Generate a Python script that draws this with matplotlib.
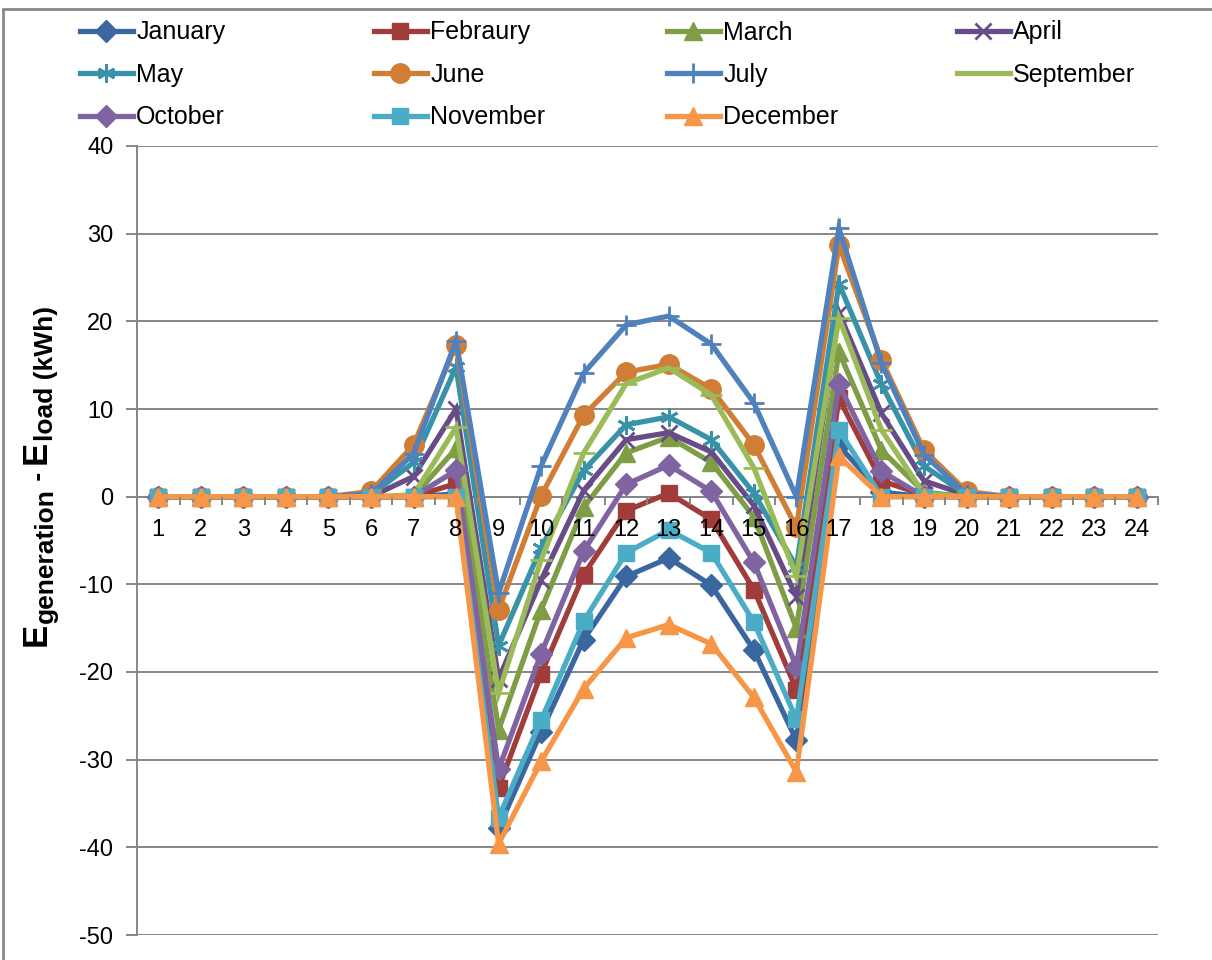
import matplotlib
matplotlib.use("Agg")
import matplotlib.pyplot as plt
from matplotlib.patches import Rectangle

plt.rcParams['font.family'] = ['Liberation Sans', 'DejaVu Sans']
plt.rcParams['axes.unicode_minus'] = False

hours = list(range(1, 25))

january   = [0, 0, 0, 0, 0, 0, 0, 0.3, -37.8, -26.8, -16.3, -9.1, -7.0, -10.1, -17.5, -27.8, 5.8, 0.5, 0, 0, 0, 0, 0, 0]
february  = [0, 0, 0, 0, 0, 0, 0, 1.5, -33.2, -20.2, -8.9, -1.6, 0.4, -2.6, -10.6, -22.0, 11.2, 1.8, 0.2, 0, 0, 0, 0, 0]
march     = [0, 0, 0, 0, 0, 0, 0, 5.5, -26.6, -12.9, -1.2, 5.0, 6.8, 3.9, -2.3, -15.0, 16.5, 5.3, 0.5, 0, 0, 0, 0, 0]
april     = [0, 0, 0, 0, 0, 0, 2.3, 10.0, -20.8, -9.5, 0.7, 6.5, 7.3, 5.1, -1.0, -11.4, 21.0, 9.5, 1.8, 0.2, 0, 0, 0, 0]
may       = [0, 0, 0, 0, 0, 0.2, 3.9, 14.8, -17.0, -5.8, 3.0, 8.2, 9.1, 6.5, 0.4, -8.0, 24.3, 12.8, 3.5, 0.2, 0, 0, 0, 0]
june      = [0, 0, 0, 0, 0, 0.6, 5.9, 17.3, -12.9, 0.1, 9.3, 14.2, 15.1, 12.3, 5.9, -3.5, 28.7, 15.6, 5.3, 0.6, 0, 0, 0, 0]
july      = [0, 0, 0, 0, 0, 0.3, 4.9, 17.8, -11.0, 3.5, 14.1, 19.6, 20.6, 17.4, 10.7, 0.0, 30.6, 15.2, 4.8, 0.3, 0, 0, 0, 0]
september = [0, 0, 0, 0, 0, 0, 0.2, 7.9, -22.4, -7.2, 5.0, 12.9, 14.7, 11.6, 3.3, -9.1, 20.4, 7.6, 0.3, 0, 0, 0, 0, 0]
october   = [0, 0, 0, 0, 0, 0, 0, 3.0, -31.1, -17.9, -6.2, 1.4, 3.6, 0.6, -7.5, -19.4, 12.8, 2.9, 0, 0, 0, 0, 0, 0]
november  = [0, 0, 0, 0, 0, 0, 0, 0, -36.6, -25.5, -14.2, -6.4, -3.8, -6.4, -14.3, -25.4, 7.6, 0, 0, 0, 0, 0, 0, 0]
december  = [0, 0, 0, 0, 0, 0, 0, 0, -39.6, -30.2, -21.9, -16.1, -14.6, -16.8, -22.9, -31.4, 4.6, 0, 0, 0, 0, 0, 0, 0]

series_names = ['January', 'Febraury', 'March', 'April', 'May', 'June',
                'July', 'September', 'October', 'November', 'December']
series_values = [january, february, march, april, may, june,
                 july, september, october, november, december]

colors = ['#3A67A0', '#A03C39', '#7E9D45', '#674C87', '#3892A8', '#D07E35',
          '#4F81BD', '#9BBB59', '#8064A2', '#4BACC6', '#F79646']
markers = ['D', 's', '^', 'x', (6, 2, 0), 'o', '+', '_', 'D', 's', '^']
msizes = [11, 12, 13, 11, 13, 14, 15, 16, 11, 12, 13]

grid_col = '#868686'

fig = plt.figure(figsize=(12.12, 9.6), dpi=100)
ax = fig.add_axes([137 / 1212, 1 - 935 / 960, (1158 - 137) / 1212, (935 - 146) / 960])

handles = []
for name, vals, c, m, ms in zip(series_names, series_values, colors, markers, msizes):
    open_marker = m in ('x', '+', '_') or isinstance(m, tuple)
    h, = ax.plot(hours, vals, color=c, lw=3.8, marker=m, markersize=ms,
                 markeredgewidth=2.0 if open_marker else 1.0,
                 markerfacecolor=c, markeredgecolor=c, label=name,
                 solid_joinstyle='miter', zorder=3)
    handles.append(h)

ax.set_xlim(0.5, 24.5)
ax.set_ylim(-50, 40)
ax.set_yticks(range(-50, 41, 10))
ax.yaxis.grid(True, color=grid_col, lw=1.4)
ax.set_axisbelow(True)

ax.set_xticks(hours)
ax.set_xticklabels([str(h) for h in hours])
ax.set_xticks([h + 0.5 for h in range(0, 25)], minor=True)
ax.tick_params(axis='x', which='major', length=0, pad=16, labelsize=17)
ax.tick_params(axis='x', which='minor', length=6, width=1.4, color=grid_col, direction='out')
ax.tick_params(axis='y', which='major', length=8, width=1.4, color=grid_col, pad=9, labelsize=17)
ax.xaxis.set_zorder(4)

for side in ('top', 'right'):
    ax.spines[side].set_visible(False)
ax.spines['bottom'].set_position(('data', 0))
ax.spines['bottom'].set_color(grid_col)
ax.spines['bottom'].set_linewidth(1.4)
ax.spines['bottom'].set_zorder(2)
ax.spines['left'].set_color(grid_col)
ax.spines['left'].set_linewidth(1.4)

# legend laid out as four evenly spaced columns
columns = [[0, 4, 8], [1, 5, 9], [2, 6, 10], [3, 7]]
col_x = [72, 366, 659, 949]
for cx, idx in zip(col_x, columns):
    fig.legend([handles[i] for i in idx], [series_names[i] for i in idx],
               loc='upper left', bbox_to_anchor=(cx / 1212, 1 - 13 / 960),
               frameon=False, fontsize=18, handlelength=2.15, handletextpad=0.12,
               labelspacing=0.74, borderaxespad=0, borderpad=0.3)

# y-axis title built from pieces: large E with bold subscripts
fig.canvas.draw()
renderer = fig.canvas.get_renderer()
pieces = [('E', 25, 46), ('generation', 19, 53), (' - ', 19, 46),
          ('E', 25, 46), ('load (kWh)', 19, 53)]
y_cur = 960 - 646
for txt, size, xb in pieces:
    t = fig.text(xb / 1212, y_cur / 960, txt, rotation=90, rotation_mode='anchor',
                 ha='left', va='baseline', fontsize=size, fontweight='bold')
    ext = t.get_window_extent(renderer)
    y_cur += ext.height

fig.add_artist(Rectangle((3 / 1212, -0.1), 1.2, 1.1 - 9 / 960,
                         transform=fig.transFigure, fill=False,
                         edgecolor='#888888', lw=2))

fig.savefig('out.png', dpi=100)
